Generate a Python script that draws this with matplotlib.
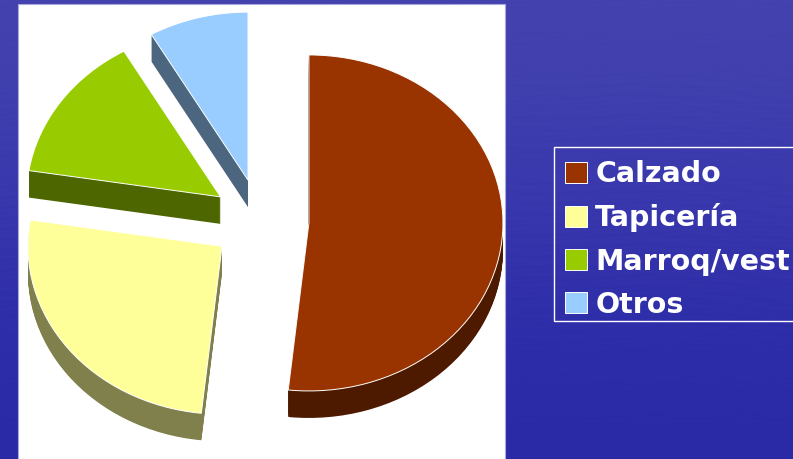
import numpy as np
import matplotlib
matplotlib.use('Agg')
import matplotlib.pyplot as plt
from matplotlib.colors import LinearSegmentedColormap
from matplotlib.patches import Rectangle

# datos del gráfico
categorias = ['Calzado', 'Tapicería', 'Marroq/vest', 'Otros']
valores = [51.7, 25.8, 14.2, 8.3]
colores = ['#993300', '#FFFF99', '#99CC00', '#99CCFF']
colores_lado = ['#4D1A00', '#80804D', '#4D6600', '#4D6680']

# tonos del fondo, de arriba abajo
fondo_tonos = ['#4442AE', '#4140AF', '#3C3BAE', '#3635AC', '#302FAA', '#2C2BA8', '#2A29A6']

W, H = 793, 459
CX, CY = 260.5, 220.7  # centro de la tarta en pixeles
RX, RY = 194.0, 168.0  # radios de la elipse
PROF = 27  # grosor en pixeles

fig = plt.figure(figsize=(W / 100, H / 100), dpi=100)

# fondo con vetas horizontales suaves
ax_bg = fig.add_axes([0, 0, 1, 1], zorder=0)
cmap = LinearSegmentedColormap.from_list('fondo', fondo_tonos)
yy, xx = np.mgrid[0:H, 0:W]
vetas = np.sin(yy * 0.9 + np.sin(xx * 0.021) * 3.0) * np.sin(xx * 0.037 + yy * 0.31)
ax_bg.imshow(yy / H - 0.035 * vetas, aspect='auto', cmap=cmap, vmin=0, vmax=1,
             extent=(0, W, H, 0), interpolation='bilinear')
ax_bg.add_patch(Rectangle((18, 4), 487, H - 4, facecolor='white', edgecolor='#A9A9DC', linewidth=0.8))
# marco de la leyenda, se sale por la derecha
ax_bg.add_patch(Rectangle((554, 147), 260, 174, facecolor='none', edgecolor='white', linewidth=1.0))
ax_bg.set_xlim(0, W)
ax_bg.set_ylim(H, 0)
ax_bg.axis('off')

# tarta: una unidad en x son RX pixeles, en y son RY pixeles
ax = fig.add_axes([0, 0, 1, 1], zorder=1)
ax.patch.set_alpha(0)
explode = [0.25] * len(valores)

# los lados: la misma tarta repetida hacia abajo
for d in range(PROF, 0, -1):
    lado, _ = ax.pie(valores, explode=explode, colors=colores_lado, startangle=90,
                     counterclock=False, center=(0, -d / RY),
                     wedgeprops={'linewidth': 0.6, 'edgecolor': 'none'})

wedges, _ = ax.pie(valores, explode=explode, colors=colores, startangle=90,
                   counterclock=False, wedgeprops={'linewidth': 0.7, 'edgecolor': 'white'})

ax.set_aspect('auto')
ax.set_xlim(-CX / RX, (W - CX) / RX)
ax.set_ylim(-(H - CY) / RY, CY / RY)
ax.axis('off')

ax.legend(wedges, categorias, loc='upper left', bbox_to_anchor=(554 / W, 1 - 149 / H),
          bbox_transform=fig.transFigure, frameon=False, labelcolor='white', borderaxespad=0,
          prop={'family': 'DejaVu Sans', 'weight': 'bold', 'size': 20.5},
          handlelength=0.75, handleheight=0.75, handletextpad=0.3, labelspacing=0.53,
          borderpad=0.4)

plt.savefig('out.png', dpi=100)
plt.close()
